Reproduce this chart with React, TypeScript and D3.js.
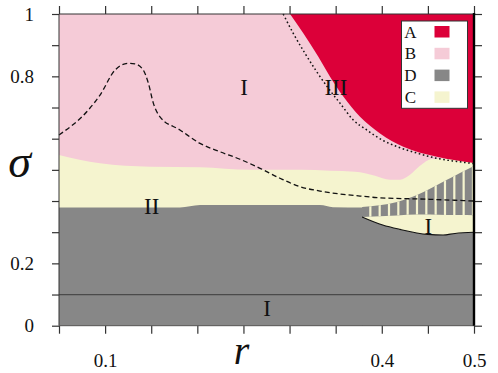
import React, { useEffect, useRef } from "react";
import * as d3 from "d3";

// phase boundaries as [r, sigma]
const creamTop: [number, number][] = [
  [0.05, 0.548], [0.0945, 0.521], [0.1487, 0.51], [0.2029, 0.508], [0.2571, 0.5],
  [0.3113, 0.5], [0.3439, 0.497], [0.371, 0.494], [0.3927, 0.481], [0.4089, 0.468],
  [0.4198, 0.468], [0.4306, 0.484], [0.4414, 0.513], [0.4545, 0.535], [0.4794, 0.536],
  [0.5, 0.525],
];

const grayTop: [number, number][] = [
  [0.05, 0.379], [0.1812, 0.379], [0.2029, 0.387], [0.333, 0.387], [0.3471, 0.38], [0.3795, 0.379],
];

const bandTop: [number, number][] = [
  [0.3786, 0.381], [0.4165, 0.397], [0.4382, 0.419], [0.4523, 0.439], [0.4707, 0.468],
  [0.4848, 0.49], [0.5, 0.512],
];

const bandBottom: [number, number][] = [
  [0.3786, 0.349], [0.4414, 0.357], [0.5, 0.354],
];

const innerCurve: [number, number][] = [
  [0.3786, 0.349], [0.401, 0.323], [0.4198, 0.309], [0.45, 0.293], [0.4664, 0.291],
  [0.4794, 0.296], [0.5, 0.2996],
];

const redEdge: [number, number][] = [
  [0.3005, 1.0], [0.3149, 0.938], [0.3312, 0.863], [0.3439, 0.799], [0.3583, 0.735],
  [0.3764, 0.67], [0.3981, 0.617], [0.4234, 0.574], [0.4596, 0.542], [0.5, 0.522],
];

const dottedLine: [number, number][] = [
  [0.2931, 1.0], [0.304, 0.938], [0.3167, 0.874], [0.3294, 0.815], [0.342, 0.762],
  [0.3547, 0.714], [0.3691, 0.66], [0.3836, 0.628], [0.4016, 0.594], [0.4198, 0.571],
  [0.4379, 0.554], [0.4596, 0.537], [0.4812, 0.527], [0.5, 0.52],
];

const dashedLine: [number, number][] = [
  [0.05, 0.612], [0.0818, 0.692], [0.0945, 0.74], [0.1107, 0.82], [0.1251, 0.842],
  [0.1324, 0.84], [0.1414, 0.82], [0.1469, 0.778], [0.1523, 0.714], [0.1595, 0.67],
  [0.1812, 0.628], [0.2029, 0.585], [0.2246, 0.558], [0.2463, 0.534], [0.268, 0.505],
  [0.2896, 0.473], [0.3113, 0.446], [0.333, 0.432], [0.3547, 0.4225], [0.3764, 0.416],
  [0.3948, 0.411], [0.4523, 0.4055], [0.5, 0.4],
];

const lowLine = 0.1;

const regionNames = ["I", "III", "II", "I", "I"];
const regionR = [0.2506, 0.3503, 0.1505, 0.2755, 0.4505];
const regionS = [0.74, 0.74, 0.358, 0.0314, 0.2941];

const legendNames = ["A", "B", "D", "C"];
const legendColors = ["#dc0039", "#f5cbd7", "#878787", "#f5f4cf"];

const xTicks = [0.05, 0.1, 0.15, 0.2, 0.25, 0.3, 0.35, 0.4, 0.45, 0.5];
const xTickLabels = ["", "0.1", "", "", "", "", "", "0.4", "", "0.5"];
const yTicks = [0, 0.1, 0.2, 0.3, 0.4, 0.5, 0.6, 0.7, 0.8, 0.9, 1];
const yTickLabels = ["0", "", "0.2", "", "", "", "", "", "0.8", "", "1"];

const RED = "#dc0039", PINK = "#f5cbd7", GRAY = "#878787", CREAM = "#f5f4cf";
const FONT = "'Liberation Serif', 'Times New Roman', serif";

export default function App() {
  const ref = useRef<SVGSVGElement>(null);

  useEffect(() => {
    const W = 498, H = 373;
    const left = 59, right = 474, top = 14, bottom = 325.7;
    const svg = d3.select(ref.current).attr("width", W).attr("height", H);
    svg.selectAll("*").remove();

    const x = d3.scaleLinear().domain([0.05, 0.5]).range([left, right]);
    const y = d3.scaleLinear().domain([0, 1]).range([bottom, top]);

    const area = (pts, base) =>
      d3.area<[number, number]>()
        .x((d) => x(d[0]))
        .y0(y(base))
        .y1((d) => y(d[1]))
        .curve(d3.curveMonotoneX)(pts);
    const line = d3.line<[number, number]>()
      .x((d) => x(d[0]))
      .y((d) => y(d[1]))
      .curve(d3.curveMonotoneX);

    svg.append("rect")
      .attr("x", left).attr("y", top)
      .attr("width", right - left).attr("height", bottom - top)
      .attr("fill", PINK);

    svg.append("path").attr("d", area(creamTop, 0)).attr("fill", CREAM);
    svg.append("path").attr("d", area(grayTop, 0)).attr("fill", GRAY);
    svg.append("path").attr("d", area(innerCurve, 0)).attr("fill", GRAY);

    // hatched band between bandBottom and bandTop
    const botFn = (r) => {
      const i = d3.bisector((d: [number, number]) => d[0]).right(bandBottom, r) - 1;
      const a = bandBottom[Math.max(0, Math.min(i, bandBottom.length - 2))];
      const b = bandBottom[Math.max(1, Math.min(i + 1, bandBottom.length - 1))];
      return a[1] + ((r - a[0]) / (b[0] - a[0])) * (b[1] - a[1]);
    };
    const bandArea = d3.area<[number, number]>()
      .x((d) => x(d[0]))
      .y0((d) => y(botFn(d[0])))
      .y1((d) => y(d[1]))
      .curve(d3.curveMonotoneX);
    svg.append("clipPath").attr("id", "band")
      .append("path").attr("d", bandArea(bandTop));
    const band = svg.append("g").attr("clip-path", "url(#band)");
    band.append("rect")
      .attr("x", x(bandTop[0][0])).attr("y", top)
      .attr("width", right - x(bandTop[0][0])).attr("height", bottom - top)
      .attr("fill", GRAY);
    const step = 9.33;
    band.selectAll("line")
      .data(d3.range(x(bandTop[0][0]) + 8.3, right, step))
      .join("line")
      .attr("x1", (d) => d).attr("x2", (d) => d)
      .attr("y1", top).attr("y2", bottom)
      .attr("stroke", CREAM).attr("stroke-width", 2.2);

    svg.append("path").attr("d", line(innerCurve))
      .attr("fill", "none").attr("stroke", "#111").attr("stroke-width", 1.1);

    svg.append("path").attr("d", area(redEdge, 1)).attr("fill", RED);

    svg.append("line")
      .attr("x1", left).attr("x2", right)
      .attr("y1", y(lowLine)).attr("y2", y(lowLine))
      .attr("stroke", "#4a4a4a").attr("stroke-width", 1.2);

    svg.append("path").attr("d", line(dottedLine))
      .attr("fill", "none").attr("stroke", "#111").attr("stroke-width", 1.5)
      .attr("stroke-dasharray", "1.6 2.6");
    svg.append("path").attr("d", line(dashedLine))
      .attr("fill", "none").attr("stroke", "#111").attr("stroke-width", 1.3)
      .attr("stroke-dasharray", "5 3");

    svg.selectAll(".region")
      .data(regionNames)
      .join("text")
      .attr("class", "region")
      .attr("x", (d, i) => x(regionR[i]))
      .attr("y", (d, i) => y(regionS[i]))
      .attr("text-anchor", "middle")
      .attr("font-family", FONT)
      .attr("font-size", 23)
      .attr("fill", "#111")
      .text((d) => d);

    // axes
    const tickStyle = (g) => {
      g.select(".domain").remove();
      g.selectAll("line").attr("stroke", "#333").attr("stroke-width", 1.2);
      g.selectAll("text").attr("font-family", FONT).attr("font-size", 19).attr("fill", "#111");
    };
    svg.append("g").attr("transform", `translate(${left},0)`)
      .call(d3.axisLeft(y).tickValues(yTicks).tickSize(7).tickPadding(18)
        .tickFormat((d, i) => yTickLabels[i]))
      .call(tickStyle);
    svg.append("g").attr("transform", `translate(0,${bottom})`)
      .call(d3.axisBottom(x).tickValues(xTicks).tickSize(8).tickPadding(19.5)
        .tickFormat((d, i) => xTickLabels[i]))
      .call(tickStyle);
    svg.append("g").attr("transform", `translate(0,${top})`)
      .call(d3.axisTop(x).tickValues(xTicks).tickSize(8).tickFormat(() => ""))
      .call(tickStyle);
    svg.append("g").attr("transform", `translate(${right},0)`)
      .call(d3.axisRight(y).tickValues(yTicks).tickSize(8).tickFormat(() => ""))
      .call(tickStyle);

    svg.append("line").attr("x1", left).attr("x2", left).attr("y1", top).attr("y2", bottom)
      .attr("stroke", "#333").attr("stroke-width", 1);
    svg.append("line").attr("x1", left).attr("x2", right).attr("y1", top).attr("y2", top)
      .attr("stroke", "#333").attr("stroke-width", 1);
    svg.append("line").attr("x1", left).attr("x2", right).attr("y1", bottom).attr("y2", bottom)
      .attr("stroke", "#555").attr("stroke-width", 1);
    svg.append("line").attr("x1", right).attr("x2", right).attr("y1", top - 1).attr("y2", bottom)
      .attr("stroke", "#000").attr("stroke-width", 2.4);

    // legend
    const lg = svg.append("g").attr("transform", "translate(401.5,21)");
    lg.append("rect").attr("width", 66).attr("height", 87.3)
      .attr("fill", "#fff").attr("stroke", "#333").attr("stroke-width", 1);
    const rows = lg.selectAll(".row").data(legendNames).join("g")
      .attr("class", "row")
      .attr("transform", (d, i) => `translate(0,${5 + i * 21.8})`);
    rows.append("text")
      .attr("x", 9).attr("y", 11.5)
      .attr("text-anchor", "middle")
      .attr("font-family", FONT).attr("font-size", 17).attr("fill", "#111")
      .text((d) => d);
    rows.append("rect")
      .attr("x", 33).attr("y", 0).attr("width", 15).attr("height", 11.5)
      .attr("fill", (d, i) => legendColors[i]);

    svg.append("text").attr("x", 19.5).attr("y", 176.5)
      .attr("text-anchor", "middle").attr("font-family", FONT)
      .attr("font-style", "italic").attr("font-size", 46).attr("fill", "#111")
      .text("σ");
    svg.append("text").attr("x", 241.5).attr("y", 364)
      .attr("text-anchor", "middle").attr("font-family", FONT)
      .attr("font-style", "italic").attr("font-size", 40).attr("fill", "#111")
      .text("r");
  }, []);

  return (
    <svg ref={ref} style={{ position: "absolute", left: 0, top: 0, display: "block" }}></svg>
  );
}
